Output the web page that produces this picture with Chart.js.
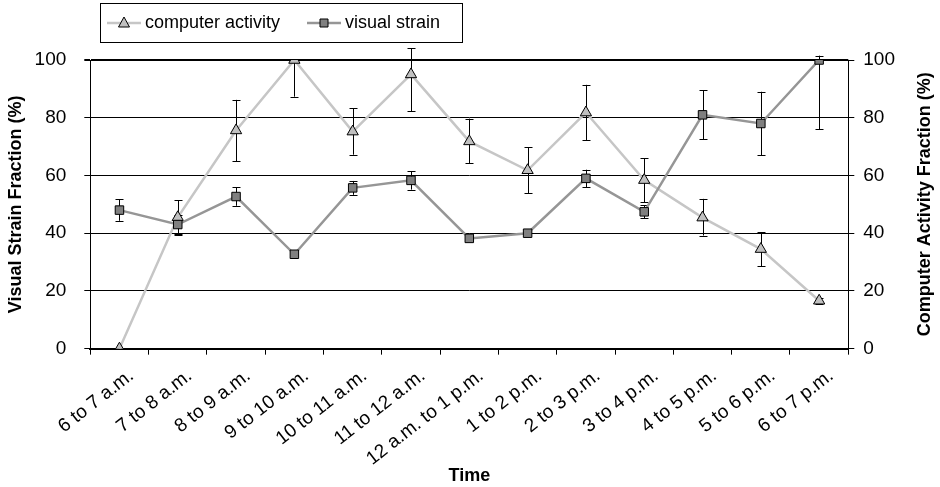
<!DOCTYPE html>
<html>
<head>
<meta charset="utf-8">
<script src="https://cdn.jsdelivr.net/npm/chart.js@4.4.1/dist/chart.umd.min.js"></script>
<style>
  html, body { margin: 0; padding: 0; background: #fff; }
  #wrap { width: 940px; height: 487px; }
</style>
</head>
<body>
<div id="wrap"><canvas id="chart"></canvas></div>
<script>
const hours = ["6 to 7 a.m.", "7 to 8 a.m.", "8 to 9 a.m.", "9 to 10 a.m.", "10 to 11 a.m.",
  "11 to 12 a.m.", "12 a.m. to 1 p.m.", "1 to 2 p.m.", "2 to 3 p.m.", "3 to 4 p.m.",
  "4 to 5 p.m.", "5 to 6 p.m.", "6 to 7 p.m."];

const computerActivity = [0, 45.5, 75.6, 100, 75.2, 95, 71.8, 61.8, 81.8, 58.4, 45.4, 34.5, 16.6];
const computerErrLow  = [0, 6, 10.6, 12.7, 8, 12.8, 7.5, 8, 9.6, 7.6, 6.2, 5.9, 1];
const computerErrHigh = [0, 6, 10.6, 0, 8, 9, 7.9, 8, 9.6, 7.6, 6.5, 5.9, 1];

const visualStrain = [48, 43, 52.7, 32.7, 55.7, 58.3, 38.2, 40, 59, 47.4, 81, 78, 100];
const visualErrLow  = [3.7, 3.3, 3.2, 0, 2.4, 3.2, 1, 0, 3, 2.2, 8.5, 11, 24];
const visualErrHigh = [3.7, 3.3, 3.2, 0, 2.4, 3.2, 1, 0, 3, 2.2, 8.5, 11, 1.5];

const yTicks = [0, 20, 40, 60, 80, 100];

const FONT = "'Liberation Sans', Arial, sans-serif";

// error bars drawn under the markers
const errorBars = {
  id: 'errorBars',
  beforeDatasetsDraw(chart) {
    const ctx = chart.ctx;
    ctx.save();
    ctx.strokeStyle = '#000';
    ctx.lineWidth = 1;
    chart.data.datasets.forEach((ds, di) => {
      const meta = chart.getDatasetMeta(di);
      const yScale = chart.scales[ds.yAxisID];
      meta.data.forEach((pt, i) => {
        const lo = ds.errLow[i], hi = ds.errHigh[i];
        if (!lo && !hi) return;
        const x = Math.round(pt.x) + 0.5;
        const yTop = yScale.getPixelForValue(ds.data[i] + hi);
        const yBot = yScale.getPixelForValue(ds.data[i] - lo);
        ctx.beginPath();
        ctx.moveTo(x, yTop); ctx.lineTo(x, yBot);
        if (hi) { ctx.moveTo(x - 4, Math.round(yTop) + 0.5); ctx.lineTo(x + 4, Math.round(yTop) + 0.5); }
        if (lo) { ctx.moveTo(x - 4, Math.round(yBot) + 0.5); ctx.lineTo(x + 4, Math.round(yBot) + 0.5); }
        ctx.stroke();
      });
    });
    ctx.restore();
  }
};

function drawMarker(ctx, style, x, y, fill) {
  ctx.beginPath();
  if (style === 'triangle') {
    ctx.moveTo(x, y - 6); ctx.lineTo(x + 5.5, y + 4); ctx.lineTo(x - 5.5, y + 4); ctx.closePath();
  } else {
    ctx.rect(x - 4, y - 4, 8, 8);
  }
  ctx.fillStyle = fill; ctx.fill();
  ctx.strokeStyle = '#000'; ctx.lineWidth = 1; ctx.stroke();
}

// boxed legend with line+marker samples, plus right axis title reading upward
const decorations = {
  id: 'decorations',
  afterDraw(chart) {
    const ctx = chart.ctx;
    ctx.save();
    ctx.strokeStyle = '#000';
    ctx.lineWidth = 1;
    ctx.strokeRect(100.5, 3.5, 362, 39);
    const items = [
      { ds: chart.data.datasets[0], x: 107 },
      { ds: chart.data.datasets[1], x: 307 }
    ];
    ctx.font = '18px ' + FONT;
    ctx.textBaseline = 'middle';
    items.forEach(it => {
      ctx.beginPath();
      ctx.strokeStyle = it.ds.borderColor;
      ctx.lineWidth = 2.5;
      ctx.moveTo(it.x, 23); ctx.lineTo(it.x + 34, 23);
      ctx.stroke();
      drawMarker(ctx, it.ds.pointStyle, it.x + 17, 23, it.ds.pointBackgroundColor);
      ctx.fillStyle = '#000';
      ctx.fillText(it.ds.label, it.x + 38, 23);
    });

    const r = chart.scales.y1;
    ctx.translate(925, (r.top + r.bottom) / 2);
    ctx.rotate(-Math.PI / 2);
    ctx.font = 'bold 18px ' + FONT;
    ctx.textAlign = 'center';
    ctx.fillStyle = '#000';
    ctx.fillText('Computer Activity Fraction (%)', 0, 0);
    ctx.restore();
  }
};

new Chart(document.getElementById('chart'), {
  type: 'line',
  data: {
    labels: hours,
    datasets: [
      {
        label: 'computer activity',
        data: computerActivity,
        errLow: computerErrLow,
        errHigh: computerErrHigh,
        yAxisID: 'y1',
        order: 1,
        borderColor: '#c6c6c6',
        borderWidth: 2.5,
        pointStyle: 'triangle',
        pointRadius: 6.5,
        pointBackgroundColor: '#c0c0c0',
        pointBorderColor: '#000',
        pointBorderWidth: 1,
        tension: 0
      },
      {
        label: 'visual strain',
        data: visualStrain,
        errLow: visualErrLow,
        errHigh: visualErrHigh,
        yAxisID: 'y',
        order: 0,
        borderColor: '#969696',
        borderWidth: 2.5,
        pointStyle: 'rect',
        pointRadius: 6,
        pointBackgroundColor: '#808080',
        pointBorderColor: '#000',
        pointBorderWidth: 1,
        tension: 0
      }
    ]
  },
  options: {
    responsive: true,
    maintainAspectRatio: false,
    animation: false,
    layout: { padding: { top: 60, right: 36, left: 5, bottom: 0 } },
    plugins: {
      legend: { display: false },
      tooltip: { enabled: false }
    },
    scales: {
      x: {
        offset: true,
        afterFit: s => { s.height -= 21; },
        grid: { drawOnChartArea: false, offset: true, tickLength: 6, color: '#000' },
        border: { color: '#000', width: 2 },
        ticks: { color: '#000', font: { family: FONT, size: 19 }, minRotation: 38, maxRotation: 38, autoSkip: false, padding: 10, labelOffset: 12 },
        title: { display: true, text: 'Time', color: '#000', font: { family: FONT, size: 18, weight: 'bold' }, padding: { top: 6, bottom: 0 } }
      },
      y: {
        position: 'left',
        min: 0, max: 100,
        afterBuildTicks: s => { s.ticks = yTicks.map(v => ({ value: v })); },
        afterFit: s => { s.width -= 10; },
        grid: {
          color: '#000',
          lineWidth: c => (c.tick && (c.tick.value === 100)) ? 2 : 1,
          tickLength: 6
        },
        border: { color: '#000', width: 1 },
        ticks: { color: '#000', font: { family: FONT, size: 19 }, padding: 18 },
        title: { display: true, text: 'Visual Strain Fraction (%)', color: '#000', font: { family: FONT, size: 18, weight: 'bold' }, padding: { top: 0, bottom: 0 } }
      },
      y1: {
        position: 'right',
        min: 0, max: 100,
        afterBuildTicks: s => { s.ticks = yTicks.map(v => ({ value: v })); },
        grid: { drawOnChartArea: false, tickLength: 6, color: '#000' },
        border: { color: '#000', width: 1 },
        ticks: { color: '#000', font: { family: FONT, size: 19 }, padding: 9 }
      }
    }
  },
  plugins: [errorBars, decorations]
});
</script>
</body>
</html>
